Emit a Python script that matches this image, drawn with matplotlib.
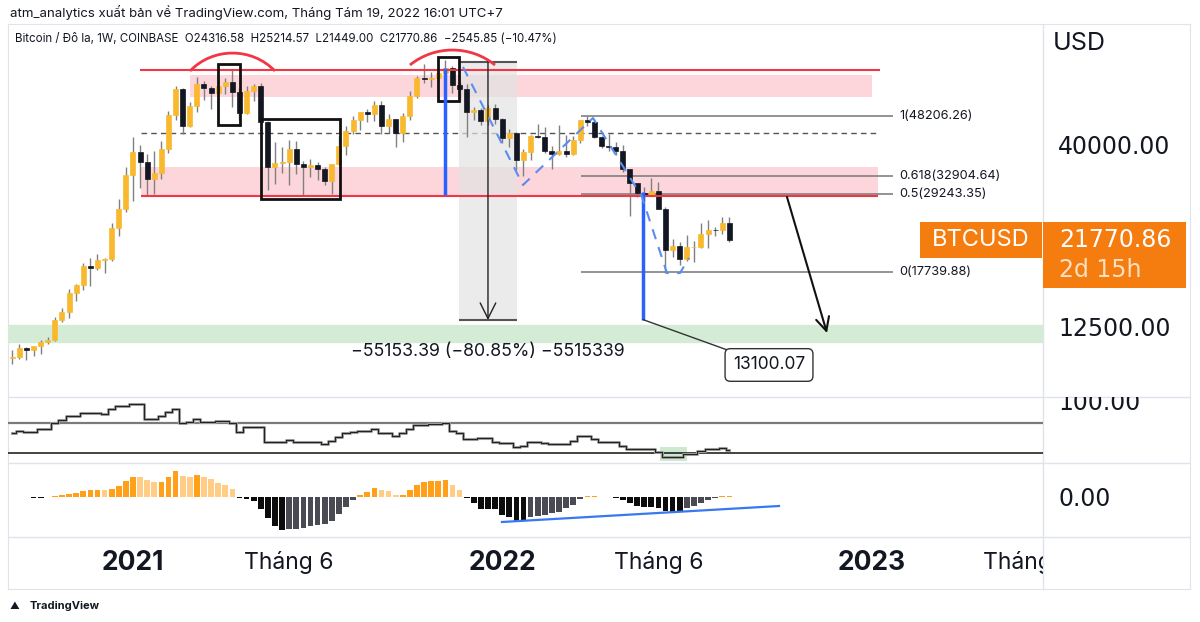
import numpy as np
import pandas as pd
import matplotlib
matplotlib.use('Agg')
import matplotlib.pyplot as plt
from matplotlib.patches import Rectangle, PathPatch
from matplotlib.path import Path
from matplotlib.transforms import Bbox, TransformedBbox, blended_transform_factory
from matplotlib.ticker import NullLocator

plt.rcParams['font.family'] = ['Inter', 'DejaVu Sans']

# bougies hebdo COINBASE BTCUSD, du 2020-09-07 au 2022-08-15
week_start = pd.date_range('2020-09-07', '2022-08-15', freq='W-MON')
opens = [10280, 10330, 10930, 10770, 11070, 11370, 11500, 13030, 13780, 15480, 16300, 18400, 18180, 19170, 19270, 23470, 26500,
         33000, 38200, 35800, 32200, 33500, 38900, 48600, 57400, 45200, 51200, 59000, 57500, 55800, 58200, 60000, 56200,
         49000, 56600, 58300, 46400, 34700, 35600, 35800, 39100, 35500, 34700, 35300, 34250, 31800, 35400, 39800, 43800,
         47000, 49300, 48800, 51800, 45200, 47250, 43200, 48200, 54700, 61500, 60900, 61300, 63300, 65500, 58700, 57200,
         49300, 50100, 46700, 50800, 47300, 41800, 43100, 36300, 38200, 42400, 42200, 38400, 37700, 38400, 37800, 41300,
         46800, 46400, 42200, 39700, 39400, 38500, 34300, 31300, 29500, 29100, 29900, 26600, 20500, 21000, 19300, 20800,
         20850, 22600, 23300, 23200, 24316.58]
highs = [10800, 11180, 10990, 10950, 11500, 11720, 13350, 14100, 15960, 16480, 18800, 19480, 19920, 19440, 24300, 28400, 34800,
         42000, 40100, 37800, 38600, 40950, 49700, 58350, 57500, 52600, 61800, 60400, 58400, 60200, 61200, 64900, 57500,
         58400, 59000, 59500, 46600, 40800, 39500, 41300, 41000, 36000, 36600, 35900, 34700, 35400, 42500, 45300, 48200,
         49400, 50500, 52900, 52900, 48800, 47350, 49200, 56600, 62000, 67000, 63700, 64300, 69000, 66300, 59900, 59200,
         51000, 50600, 51800, 52000, 47500, 44400, 43500, 38900, 42700, 45800, 44800, 39800, 45400, 42600, 42300, 46900,
         48206, 47200, 42400, 42900, 40800, 40000, 34400, 31400, 30600, 32300, 31600, 26900, 21900, 21500, 22500, 21600,
         24300, 24700, 23650, 25200, 25214.57]
lows = [9880, 10200, 10140, 10370, 10530, 11200, 11410, 12900, 13200, 14800, 15800, 16200, 18000, 17600, 19000, 22300, 26000,
        28000, 30400, 28900, 29200, 32200, 38000, 47000, 43000, 45000, 49300, 53300, 50400, 54600, 55500, 51000, 47000,
        48800, 53000, 43800, 30000, 31100, 33400, 31000, 33300, 28800, 32700, 32000, 31000, 29300, 35200, 37500, 42800,
        43900, 46400, 46500, 42800, 43300, 39600, 40800, 46900, 53900, 59600, 58000, 59500, 62300, 55700, 53300, 42000,
        46800, 45500, 45500, 45700, 40600, 39600, 34000, 32900, 36300, 41700, 38000, 34300, 37500, 37100, 37600, 40500,
        45200, 41800, 39200, 38600, 37600, 33700, 25400, 28600, 28000, 29000, 26500, 17600, 19600, 18600, 19000, 18900,
        20700, 20700, 22400, 22600, 21449.00]
closes = [10330, 10930, 10770, 11070, 11370, 11500, 13030, 13780, 15480, 16300, 18400, 18180, 19170, 19270, 23470, 26500, 33000,
          38200, 35800, 32200, 33500, 38900, 48600, 57400, 45200, 51200, 59000, 57500, 55800, 58200, 60000, 56200, 49000,
          56600, 58300, 46400, 34700, 35600, 35800, 39100, 35500, 34700, 35300, 34250, 31800, 35400, 39800, 43800, 47000,
          49300, 48800, 51800, 45200, 47250, 43200, 48200, 54700, 61500, 60900, 61300, 63300, 65500, 58700, 57200, 49300,
          50100, 46700, 50800, 47300, 41800, 43100, 36300, 38200, 42400, 42200, 38400, 37700, 38400, 37800, 41300, 46800,
          46400, 42200, 39700, 39400, 38500, 34300, 31300, 29500, 29100, 29900, 26600, 20500, 21000, 19300, 20800, 20850,
          22600, 23300, 23200, 24316.58, 21770.86]

# RSI hebdo et histogramme MACD (unités arbitraires)
rsi = [56.7, 59, 57.7, 57.7, 61.6, 62.3, 70.4, 74, 79.3, 79.3, 83.7, 83, 84, 82, 88.7, 92.7, 92.7,
       95.3, 95.7, 74.9, 74.9, 79.3, 84.9, 88.7, 69.6, 71.8, 75.3, 71.8, 71.8, 73.1, 73.1, 69.6, 58.4, 65, 65, 65,
       44.5, 45.1, 45.1, 47.3, 45.1, 45.1, 44.2, 44.2, 42, 46.4, 50.9, 56.2, 58.4, 59.8, 59.8, 61.6, 56.2, 56.2,
       52.7, 57.1, 61.6, 67.3, 67.3, 68.2, 68.2, 69.6, 59.8, 57.1, 48.2, 48.2, 49.6, 49.6, 45.1, 42.9, 42.9, 37.6,
       39.3, 44.2, 44.2, 42.9, 41.6, 41.6, 41.6, 46.4, 53.1, 53.1, 48.2,
       45.1, 45.1, 45.1, 39.3, 34.9, 34.9, 34.9, 34.9, 31.8, 25.1, 25.1, 25.1, 28.2, 28.2, 32.7, 34.9, 34.9, 37.1, 33.5]
macd_hist = [0.5, 0.5, 0.3, -1, -1, 0.3, 1.3, 2, 3.3, 4.3, 5.7, 6.7, 7.3, 6.7, 8.3, 10.7, 15.7,
             20, 19.7, 16.7, 14.7, 15, 19.7, 26.3, 20.7, 20, 22, 20, 18, 14, 11.7, 8,
             -1, -2, -3.7, -12, -21, -29.3, -33.3, -32.3, -32, -31.3, -29.3, -28.3, -26.7, -23.7, -16.7, -10, -3.3,
             2, 5.3, 8.7, 7.3, 5.7, 2.0, 2.3, 7.3, 12, 15.3, 16, 16.3, 17, 12, 7.3,
             -1.3, -6, -11.7, -12, -12.3, -17.7, -20.3, -23.7, -24, -20.3, -19.3, -17.7, -16, -15.3, -11, -7.7, -2, 1.3, 1.3,
             0.2, -0.3, -1, -2.7, -6, -8.7, -10, -10.3, -11, -14.3, -14.7, -15, -11, -8.7, -6, -3.3, -1, 1.3, 1.3]

fib_levels = ['1', '0.618', '0.5', '0']
fib_prices = [48206.26, 32904.64, 29243.35, 17739.88]

xtick_pos = [0, 22, 52, 74, 104, 126]
xtick_labels = ['2021', 'Tháng 6', '2022', 'Tháng 6', '2023', 'Tháng 6']
xtick_bold = [True, False, True, False, True, False]

UP = '#f9b92f'
DOWN = '#131722'
RED = '#f23645'
BLUE = '#2962ff'
ORANGE = '#f57c0f'
NUM_FONT = ['DejaVu Sans']
W, H = 1200, 622


def box(x0, y0, x1, y1):
    # position en pixels (y depuis le haut) -> fraction de figure
    return [x0 / W, 1 - y1 / H, (x1 - x0) / W, (y1 - y0) / H]


def ftext(x, y, s, **kw):
    return fig.text(x / W, 1 - y / H, s, **kw)


# semaines comptées depuis la bougie du 2021-01-04
x = np.asarray((week_start - pd.Timestamp('2021-01-04')).days / 7.0)

fig = plt.figure(figsize=(12, 6.22), dpi=100)
fig.patch.set_facecolor('white')

# cadre et séparateurs des panneaux
frame = fig.add_axes(box(8, 24, 1190, 589))
frame.set_xticks([])
frame.set_yticks([])
frame.set_xlim(0, 1)
frame.set_ylim(0, 1)
for s in frame.spines.values():
    s.set_color('#e0e3eb')
for yy in [397, 463, 537]:
    frame.axhline(1 - (yy - 24) / 565, color='#e0e3eb', lw=1)
frame.axvline((1043 - 8) / 1182, color='#e0e3eb', lw=1)

ax = fig.add_axes(box(8, 24, 1043, 397))
ax_rsi = fig.add_axes(box(8, 397, 1043, 463), sharex=ax)
ax_macd = fig.add_axes(box(8, 463, 1043, 537), sharex=ax)
for a in [ax, ax_rsi, ax_macd]:
    a.set_facecolor('none')
    for s in a.spines.values():
        s.set_visible(False)
    a.tick_params(axis='x', bottom=False, labelbottom=False)
    a.tick_params(axis='y', left=False, labelleft=False, right=True, labelright=True,
                  length=0, pad=11, labelsize=17, labelcolor='#131722')

ax.set_yscale('log')
ax.set_xlim(-17.6, 128.17)
ax.set_ylim(7986, 86700)
ax.yaxis.set_minor_locator(NullLocator())
ax.set_yticks([40000, 12500], ['40000.00', '12500.00'], fontfamily=NUM_FONT)

# zones et niveaux
ax.axhspan(11350, 12660, color='#d4ecd6', zorder=0)
ax.fill_between([8.03, 104.1], 54400, 62600, color='#fcd6da', lw=0, zorder=0)
ax.fill_between([1.13, 104.9], 28690, 34750, color='#fcd6da', lw=0, zorder=0)
ax.hlines(64600, 0.99, 105.2, color=RED, lw=1.5, zorder=4)
ax.hlines(28850, 1.13, 104.9, color=RED, lw=1.5, zorder=4)
ax.hlines(43200, 1.13, 104.9, color='#555555', lw=1, linestyles=(0, (4, 3)), zorder=1)

# fibonacci
ax.hlines(fib_prices, 63.1, 107.0, color='#808080', lw=1.2, zorder=1)
for lvl, p in zip(fib_levels, fib_prices):
    ax.text(107.9, p, f'{lvl}({p:.2f})', fontsize=9.2, va='center', color='#131722')

# zone de mesure
ax.fill_between([45.92, 54.08], 13060, 68200, color='#e3e3e3', alpha=0.7, lw=0, zorder=1)
ax.hlines([68200, 13060], 45.92, 54.08, color='#555555', lw=1.5, zorder=4)
ax.annotate('', xy=(50.0, 13060), xytext=(50.0, 68200),
            arrowprops=dict(arrowstyle='->', color='#222222', lw=1, mutation_scale=28, shrinkA=0, shrinkB=0), zorder=4)
ax.text(50.0, 10700, '−55153.39 (−80.85%) −5515339', fontsize=12.8, ha='center', va='center', color='#131722')

# bougies
o = np.array(opens)
c = np.array(closes)
up = c >= o
ax.vlines(x, lows, highs, color='#808080', lw=1, zorder=2)
body_lo = np.minimum(o, c)
body_h = np.maximum(np.abs(c - o), body_lo * 0.004)
ax.bar(x[up], body_h[up], bottom=body_lo[up], width=0.7, color=UP, edgecolor=UP, lw=0.5, zorder=3)
ax.bar(x[~up], body_h[~up], bottom=body_lo[~up], width=0.7, color=DOWN, edgecolor=DOWN, lw=0.5, zorder=3)

# dessins
for (x0, x1, p0, p1) in [(11.97, 15.07, 45460, 67100), (18.03, 29.15, 28320, 47230), (42.96, 45.92, 53000, 70200)]:
    ax.add_patch(Rectangle((x0, p0), x1 - x0, p1 - p0, fill=False, ec='#111111', lw=2, zorder=5))

for pts in [[(8.03, 64200), (11.28, 74800), (16.75, 74800), (20.0, 64200)],
            [(39.01, 66700), (42.51, 75800), (47.49, 75800), (50.99, 66700)]]:
    arc = Path(pts, [Path.MOVETO, Path.CURVE4, Path.CURVE4, Path.CURVE4])
    ax.add_patch(PathPatch(arc, fill=False, ec=RED, lw=2, zorder=5))

ax.vlines(43.94, 29100, 65400, color=BLUE, lw=2.5, zorder=5)
ax.vlines(71.83, 13100, 29600, color=BLUE, lw=2.5, zorder=5)
ax.plot([46.48, 54.93, 64.79, 71.69, 75.21, 77.04, 78.31], [65870, 30970, 47540, 28690, 17640, 17640, 19420],
        color='#5b8cf0', lw=1.5, ls=(0, (5, 4)), zorder=5)

ax.annotate('13100.07', xy=(71.83, 13100), xytext=(89.58, 9800), fontsize=12.5, ha='center', va='center',
            color='#131722',
            bbox=dict(boxstyle='round,pad=0.45,rounding_size=0.3', fc='white', ec='#333333', lw=1),
            arrowprops=dict(arrowstyle='-', color='#333333', lw=1, shrinkA=0, shrinkB=0), zorder=6)
ax.annotate('', xy=(97.75, 12020), xytext=(92.11, 28700),
            arrowprops=dict(arrowstyle='->', color='#111111', lw=1.5, mutation_scale=24, shrinkA=0, shrinkB=0),
            zorder=6)

# RSI
ax_rsi.set_ylim(16.67, 104.67)
ax_rsi.set_yticks([100], ['100.00'], fontfamily=NUM_FONT)
# l'étiquette 100.00 est coupée par le séparateur du haut
cut = TransformedBbox(Bbox.from_extents(1043 / W, 0, 1, 1 - 397 / H), fig.transFigure)
for tk in ax_rsi.yaxis.get_major_ticks():
    tk.label2.set_clip_box(cut)
ax_rsi.add_patch(Rectangle((74.23, 19.3), 3.8, 18.7, color='#cfe9d0', lw=0, zorder=0))
ax_rsi.axhline(70, color='#7a7a7a', lw=1.6)
ax_rsi.axhline(30, color='#111111', lw=1.1)
ax_rsi.step(x, rsi, where='mid', color='#a3a3a3', lw=2.2)
ax_rsi.step(x, rsi, where='mid', color='#222222', lw=0.8)

# histogramme MACD
ax_macd.set_ylim(-40, 34)
ax_macd.set_yticks([0], ['0.00'], fontfamily=NUM_FONT)
hist_colors = []
prev = 0
for v in macd_hist:
    if v >= 0:
        hist_colors.append('#ff9f1a' if v >= prev else '#ffcd85')
    else:
        hist_colors.append('#0c0c0c' if v <= prev else '#4a4a55')
    prev = v
ax_macd.bar(x, macd_hist, width=0.8, color=hist_colors, lw=0)
ax_macd.plot([51.97, 90.99], [-25, -9], color='#3a78f2', lw=1.6)

# axe du temps
trans = blended_transform_factory(ax_macd.transData, ax_macd.transAxes)
clip = TransformedBbox(Bbox.from_extents(8 / W, 0, 1043 / W, 1), fig.transFigure)
for pos, lab, bold in zip(xtick_pos, xtick_labels, xtick_bold):
    t = ax_macd.text(pos, -25.5 / 74, lab, transform=trans, ha='center', va='center',
                     fontsize=19 if bold else 16.5, fontweight='bold' if bold else 'normal',
                     color='#131722', clip_on=True)
    t.set_clip_box(clip)

# étiquettes de prix
y_last = H - ax.transData.transform((0, closes[-1]))[1]
fig.add_artist(Rectangle((920 / W, 1 - (y_last + 18) / H), 122 / W, 36 / H, transform=fig.transFigure,
                         color=ORANGE, lw=0))
fig.add_artist(Rectangle((1043 / W, 1 - (y_last + 48) / H), 143 / W, 66 / H, transform=fig.transFigure,
                         color=ORANGE, lw=0))
ftext(932, y_last, 'BTCUSD', color='white', fontsize=17, va='center')
ftext(1059, y_last, f'{closes[-1]:.2f}', color='white', fontsize=17, va='center', fontfamily=NUM_FONT)
ftext(1059, y_last + 30, '2d 15h', color='#fde0c4', fontsize=17, va='center', fontfamily=NUM_FONT)

ftext(1053, 44, 'USD', fontsize=18, va='center', color='#131722')
ftext(10, 13, 'atm_analytics xuất bản về TradingView.com, Tháng Tám 19, 2022 16:01 UTC+7',
      fontsize=9.5, va='center', color='#131722')
ftext(15, 39, 'Bitcoin / Đô la, 1W, COINBASE  O24316.58  H25214.57  L21449.00  C21770.86  −2545.85 (−10.47%)',
      fontsize=8.3, va='center', color='#131722')
ftext(30, 606, 'TradingView', fontsize=8, fontweight='bold', va='center', color='#131722')
ftext(10, 606, '▲', fontsize=7, va='center', color='#131722')

fig.savefig('out.png', dpi=100)
